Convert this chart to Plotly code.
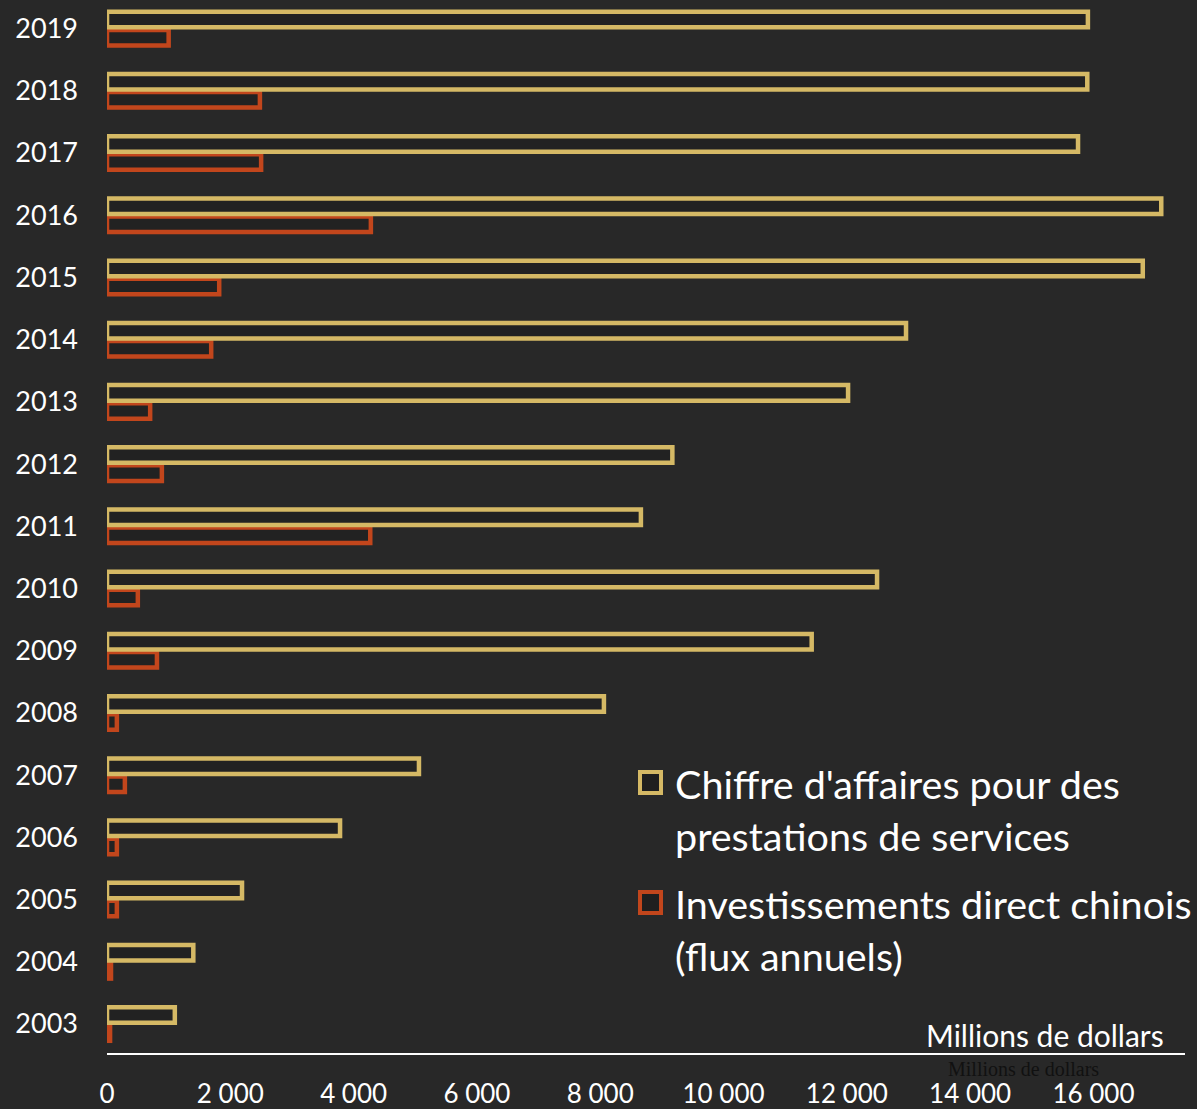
import plotly.graph_objects as go

years = [str(y) for y in range(2003, 2020)]
chiffre_affaires = [1100, 1400, 2190, 3780, 5060, 8060, 11430, 12490, 8660, 9170, 12020, 12960, 16800, 17100, 15750, 15900, 15910]
investissements = [50, 65, 160, 160, 290, 160, 810, 500, 4270, 890, 700, 1690, 1820, 4280, 2500, 2480, 1000]

name_ca = "Chiffre d'affaires pour des prestations de services"
name_ide = "Investissements direct chinois (flux annuels)"

GOLD = "#D5B965"
ORANGE = "#C2461C"
BG = "#282828"
FONT = "Lato"

fig = go.Figure()
fig.add_trace(go.Bar(
    y=years, x=investissements, orientation="h", name=name_ide,
    marker=dict(color="#222222", line=dict(color=ORANGE, width=4.5)),
    showlegend=False,
))
fig.add_trace(go.Bar(
    y=years, x=chiffre_affaires, orientation="h", name=name_ca,
    marker=dict(color="#222222", line=dict(color=GOLD, width=4.5)),
    showlegend=False,
))

W, H = 1197, 1109
L, R, T, B = 107, 12, 0, 56
pw = W - L - R
ph = H - T - B

def px(x):
    return (x - L) / pw

def py(y):
    return 1 - (y - T) / ph

shapes = []
annotations = []
legend_items = [
    (GOLD, 771, ["Chiffre d'affaires pour des", "prestations de services"]),
    (ORANGE, 891, ["Investissements direct chinois", "(flux annuels)"]),
]
for color, top, lines in legend_items:
    shapes.append(dict(type="rect", xref="paper", yref="paper",
                       x0=px(640), x1=px(661), y0=py(top + 22), y1=py(top + 1),
                       line=dict(color=color, width=4), fillcolor="#1f1f1f"))
    for i, line in enumerate(lines):
        annotations.append(dict(xref="paper", yref="paper", x=px(673), y=py(top + 12 + 52 * i),
                                xanchor="left", yanchor="middle", showarrow=False,
                                text=line, font=dict(family=FONT, size=39.5, color="white")))

annotations.append(dict(xref="paper", yref="paper", x=px(1166), y=py(1035),
                        xanchor="right", yanchor="middle", showarrow=False,
                        text="Millions de dollars", font=dict(family=FONT, size=30, color="white")))
annotations.append(dict(xref="paper", yref="paper", x=px(1101), y=py(1069),
                        xanchor="right", yanchor="middle", showarrow=False,
                        text="Millions de dollars",
                        font=dict(family="Liberation Serif", size=20, color="#111111")))

fig.update_layout(
    width=W, height=H,
    margin=dict(l=L, r=R, t=T, b=B, pad=0, autoexpand=False),
    paper_bgcolor=BG, plot_bgcolor=BG,
    barmode="group", bargap=0.42, bargroupgap=0.14,
    separators=", ",
    font=dict(family=FONT, color="white", size=27),
    shapes=shapes, annotations=annotations,
    xaxis=dict(range=[0, 17485], tickvals=[0, 2000, 4000, 6000, 8000, 10000, 12000, 14000, 16000],
               tickformat=",d", showgrid=False, zeroline=False, automargin=False,
               showline=True, linecolor="white", linewidth=2,
               ticks="", ticklabelstandoff=17,
               tickfont=dict(family=FONT, size=26, color="white")),
    yaxis=dict(type="category", range=[-0.466, 16.46], showgrid=False, zeroline=False,
               automargin=False, showline=False, ticks="", ticklabelstandoff=28,
               tickfont=dict(family=FONT, size=27, color="white")),
)

fig.write_html("out.html", config={"displayModeBar": False},
               post_script="document.body.style.margin='0';document.body.style.background='%s';" % BG)
